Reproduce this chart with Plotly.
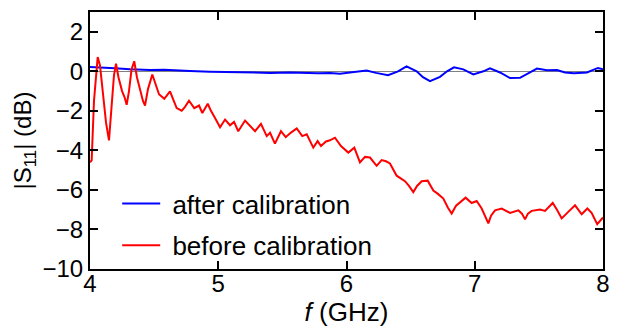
import plotly.graph_objects as go

# Reflection coefficient |S11| before calibration (GHz, dB)
f_before = [4.000, 4.013, 4.031, 4.060, 4.078, 4.101, 4.125, 4.148, 4.168, 4.187, 4.203, 4.222,
            4.250, 4.269, 4.286, 4.304, 4.324, 4.345, 4.366, 4.390, 4.413, 4.429, 4.452,
            4.486, 4.507, 4.538, 4.579, 4.624, 4.647, 4.676, 4.715, 4.741, 4.772, 4.813,
            4.850, 4.876, 4.918, 4.943, 4.975, 5.014, 5.053, 5.092, 5.123, 5.156, 5.209,
            5.248, 5.287, 5.333, 5.378, 5.404, 5.442, 5.489, 5.526, 5.567, 5.612, 5.655,
            5.690, 5.741, 5.775, 5.801, 5.840, 5.871, 5.910, 5.957, 6.014, 6.061, 6.105,
            6.144, 6.183, 6.235, 6.274, 6.308, 6.339, 6.391, 6.456, 6.487, 6.521, 6.550,
            6.586, 6.633, 6.677, 6.713, 6.755, 6.791, 6.820, 6.854, 6.885, 6.929, 6.976,
            7.015, 7.054, 7.080, 7.106, 7.127, 7.158, 7.210, 7.244, 7.275, 7.340, 7.368,
            7.392, 7.415, 7.444, 7.509, 7.548, 7.608, 7.641, 7.678, 7.729, 7.782, 7.834,
            7.878, 7.911, 7.955, 8.000]
s11_before = [-4.6, -4.5, -1.5, 0.72, 0.3, -1.0, -2.6, -3.49, -2.0, -0.2, 0.39, -0.3,
              -1.0, -1.3, -1.69, -1.0, 0.1, 0.51, -0.3, -1.0, -1.5, -1.73, -0.9,
              -0.16, -0.6, -1.16, -1.39, -1.02, -1.4, -1.86, -1.99, -1.8, -1.49, -1.86,
              -1.73, -2.11, -1.64, -2.0, -2.36, -2.83, -2.44, -2.73, -2.56, -3.03, -2.49,
              -2.78, -3.03, -2.66, -3.28, -3.11, -3.66, -3.03, -3.33, -3.1, -2.89, -3.28,
              -3.19, -3.86, -3.53, -3.78, -3.55, -3.49, -3.36, -3.78, -4.11, -3.86, -4.61,
              -4.33, -4.36, -4.78, -4.49, -4.55, -4.66, -5.28, -5.56, -5.8, -6.11, -5.8,
              -5.56, -5.53, -6.03, -6.2, -6.44, -6.9, -7.19, -6.8, -6.61, -6.39, -6.66,
              -6.56, -6.94, -7.3, -7.69, -7.3, -7.03, -6.94, -7.05, -7.16, -7.03, -7.2,
              -7.49, -7.2, -7.06, -6.99, -7.06, -6.66, -7.0, -7.44, -7.11, -6.78, -7.23,
              -6.94, -7.16, -7.73, -7.39]

# Reflection coefficient |S11| after calibration (GHz, dB)
f_after = [4.000, 4.078, 4.195, 4.312, 4.468, 4.580, 4.624, 4.780, 4.936, 5.092, 5.263,
           5.404, 5.559, 5.637, 5.778, 5.871, 5.949, 6.043, 6.157, 6.230, 6.324, 6.402,
           6.468, 6.547, 6.596, 6.651, 6.729, 6.784, 6.838, 6.911, 6.989, 7.067, 7.119,
           7.197, 7.275, 7.353, 7.431, 7.485, 7.563, 7.641, 7.704, 7.774, 7.875, 7.961,
           8.000]
s11_after = [0.22, 0.2, 0.15, 0.1, 0.06, 0.08, 0.06, 0.02, -0.02, -0.05, -0.06,
             -0.08, -0.06, -0.08, -0.1, -0.08, -0.12, -0.05, 0.04, -0.08, -0.2, 0.0,
             0.25, 0.0, -0.3, -0.5, -0.28, 0.0, 0.2, 0.1, -0.16, 0.0, 0.15,
             -0.06, -0.34, -0.33, -0.06, 0.14, 0.05, 0.06, -0.06, -0.1, -0.06, 0.17,
             0.1]

x_ticks = [4, 5, 6, 7, 8]
y_ticks = [2, 0, -2, -4, -6, -8, -10]

FONT = "Liberation Sans, Arial, sans-serif"
TICK_SIZE = 24
XTITLE_SIZE = 26
YTITLE_SIZE = 24
LEGEND_SIZE = 26
NBSP = "\u00a0"

fig = go.Figure()
fig.add_trace(go.Scatter(x=f_after, y=s11_after, mode="lines",
                         name=NBSP + "after calibration", legendgroup="after",
                         line=dict(color="#0000ff", width=2)))
fig.add_trace(go.Scatter(x=f_before, y=s11_before, mode="lines",
                         name=NBSP + "before calibration", legendgroup="before",
                         line=dict(color="#ff0000", width=2)))

axis_common = dict(
    showline=True, linecolor="black", linewidth=2, mirror="ticks",
    ticks="inside", ticklen=8, tickwidth=2, tickcolor="black",
    showgrid=False, tickfont=dict(family=FONT, size=TICK_SIZE, color="black"),
)

fig.update_xaxes(range=[4, 8], tickvals=x_ticks, zeroline=False,
                 ticklabelstandoff=-8,
                 title=dict(text="<i>f</i> (GHz)",
                            font=dict(family=FONT, size=XTITLE_SIZE, color="black"),
                            standoff=0),
                 **axis_common)
fig.update_yaxes(range=[-10, 3], tickvals=y_ticks,
                 zeroline=True, zerolinecolor="#808080", zerolinewidth=1,
                 title=dict(text="|S<sub>11</sub>| (dB)",
                            font=dict(family=FONT, size=YTITLE_SIZE, color="black"),
                            standoff=4),
                 **axis_common)

fig.update_layout(
    width=629, height=331,
    margin=dict(l=90, r=26, t=10, b=62),
    paper_bgcolor="white", plot_bgcolor="white",
    font=dict(family=FONT, color="black"),
    legend=dict(x=0.053, y=0.0, xanchor="left", yanchor="bottom",
                bgcolor="rgba(0,0,0,0)", borderwidth=0,
                font=dict(family=FONT, size=LEGEND_SIZE, color="black"),
                itemwidth=38, traceorder="grouped", tracegroupgap=5),
    showlegend=True,
)

fig.write_html("out.html")
